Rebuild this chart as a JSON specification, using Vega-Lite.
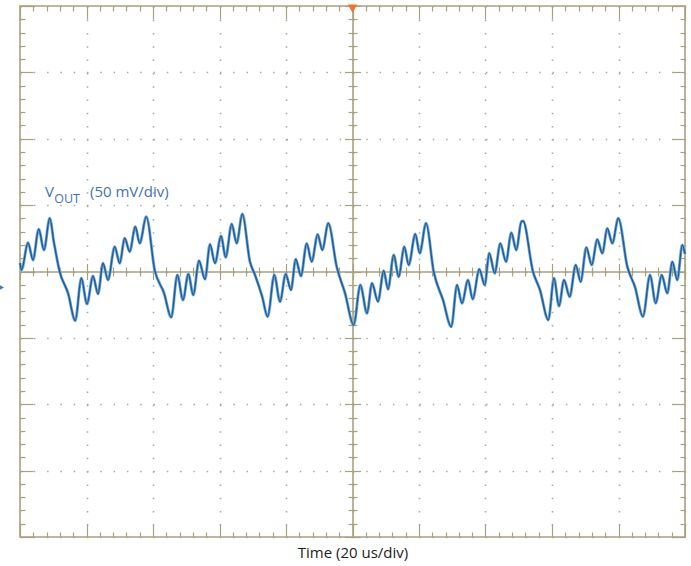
{
  "$schema": "https://vega.github.io/schema/vega-lite/v6.json",
  "width": 665,
  "height": 531,
  "autosize": {"type": "none"},
  "padding": {"left": 20, "top": 6, "right": 6, "bottom": 29},
  "background": "white",
  "view": {"stroke": "#a8a27c", "strokeWidth": 1.6},
  "datasets": {
    "trace": [
      {"t": 0, "v": 6.4}, {"t": 0.45, "v": 1.1}, {"t": 2.41, "v": 21.7}, {"t": 3.91, "v": 8.7}, {"t": 5.62, "v": 31.8}, {"t": 7.22, "v": 16.2}, {"t": 8.93, "v": 40.1}, {"t": 10.23, "v": 21.5}, {"t": 11.94, "v": -0.2}, {"t": 14.44, "v": -16.2}, {"t": 16.63, "v": -37.0},
      {"t": 18.44, "v": -5.1}, {"t": 20.15, "v": -24.5}, {"t": 21.95, "v": -3.4}, {"t": 23.46, "v": -16.9}, {"t": 24.96, "v": 6.2}, {"t": 26.47, "v": -6.4}, {"t": 28.48, "v": 18.7}, {"t": 29.98, "v": 6.2}, {"t": 31.49, "v": 25.0}, {"t": 32.99, "v": 14.9}, {"t": 34.68, "v": 33.7}, {"t": 36.0, "v": 21.2}, {"t": 37.98, "v": 41.3},
      {"t": 40.51, "v": 1.1}, {"t": 43.31, "v": -16.2}, {"t": 45.5, "v": -34.5},
      {"t": 47.31, "v": -2.6}, {"t": 49.02, "v": -21.5}, {"t": 50.62, "v": -1.9}, {"t": 52.12, "v": -17.7}, {"t": 53.83, "v": 8.1}, {"t": 55.64, "v": -5.9}, {"t": 57.14, "v": 20.5}, {"t": 58.65, "v": 6.2}, {"t": 60.45, "v": 26.7}, {"t": 61.86, "v": 10.7}, {"t": 63.67, "v": 35.8}, {"t": 65.17, "v": 21.2}, {"t": 66.86, "v": 43.3},
      {"t": 69.17, "v": 7.2}, {"t": 70.68, "v": -2.6}, {"t": 72.78, "v": -18.4}, {"t": 74.5, "v": -34.0},
      {"t": 76.48, "v": -2.6}, {"t": 78.2, "v": -22.7}, {"t": 79.91, "v": -1.9}, {"t": 81.5, "v": -13.9}, {"t": 82.92, "v": 9.2}, {"t": 84.51, "v": -3.4}, {"t": 86.22, "v": 21.2}, {"t": 87.73, "v": 7.4}, {"t": 89.53, "v": 28.0}, {"t": 90.92, "v": 16.2}, {"t": 92.72, "v": 36.3},
      {"t": 95.25, "v": 3.6}, {"t": 97.74, "v": -16.2}, {"t": 100.36, "v": -40.3},
      {"t": 102.35, "v": -10.2}, {"t": 104.36, "v": -31.5}, {"t": 105.86, "v": -8.9}, {"t": 107.67, "v": -22.7}, {"t": 109.38, "v": 0.6}, {"t": 110.68, "v": -13.4}, {"t": 112.39, "v": 12.4}, {"t": 113.89, "v": -3.9}, {"t": 115.58, "v": 18.7}, {"t": 116.9, "v": 4.9}, {"t": 118.89, "v": 28.2}, {"t": 120.21, "v": 13.7}, {"t": 122.11, "v": 36.3},
      {"t": 124.42, "v": -0.2}, {"t": 127.22, "v": -21.5}, {"t": 129.71, "v": -41.6},
      {"t": 131.43, "v": -10.2}, {"t": 132.93, "v": -23.9}, {"t": 134.74, "v": -6.4}, {"t": 136.15, "v": -20.9}, {"t": 138.14, "v": 1.7}, {"t": 139.76, "v": -10.2}, {"t": 141.14, "v": 13.7}, {"t": 142.77, "v": -1.4}, {"t": 144.45, "v": 21.2}, {"t": 146.17, "v": 7.4}, {"t": 147.76, "v": 29.2}, {"t": 149.26, "v": 16.2}, {"t": 150.77, "v": 37.5}, {"t": 151.28, "v": 38.0},
      {"t": 154.29, "v": -0.2}, {"t": 156.39, "v": -13.9}, {"t": 158.89, "v": -36.5},
      {"t": 160.6, "v": -5.1}, {"t": 162.11, "v": -26.0}, {"t": 163.61, "v": -6.4}, {"t": 165.32, "v": -19.0}, {"t": 167.13, "v": 4.9}, {"t": 168.63, "v": -7.7}, {"t": 170.32, "v": 18.2}, {"t": 171.94, "v": 4.9}, {"t": 173.62, "v": 24.2}, {"t": 175.13, "v": 13.7}, {"t": 176.63, "v": 32.5}, {"t": 178.14, "v": 21.2}, {"t": 179.94, "v": 40.1},
      {"t": 182.65, "v": 3.6}, {"t": 184.96, "v": -11.7}, {"t": 187.37, "v": -34.0},
      {"t": 189.47, "v": -2.6}, {"t": 191.19, "v": -23.9}, {"t": 192.99, "v": -2.6}, {"t": 194.68, "v": -16.4}, {"t": 196.18, "v": 7.4}, {"t": 197.68, "v": -6.4}, {"t": 199.19, "v": 20.0}, {"t": 200, "v": 13.2}
    ],
    "labelMain": [
      {"t": 7.52, "v": 56.1, "label": "V"},
      {"t": 21.05, "v": 56.1, "label": "(50 mV/div)"}
    ],
    "labelSub": [
      {"t": 10.3, "v": 51.4, "label": "OUT"}
    ],
    "trigger": [{"t": 100, "v": 198}],
    "ground": [{"t": -5.6, "v": -12}]
  },
  "layer": [
    {
      "data": {"name": "trace"},
      "mark": {"type": "line", "interpolate": "monotone", "color": "#6ea7d8", "strokeWidth": 2.9},
      "encoding": {
        "x": {"field": "t", "type": "quantitative", "scale": {"domain": [0, 200], "nice": false, "zero": false},
          "axis": {"orient": "bottom", "values": [0,4,8,12,16,20,24,28,32,36,40,44,48,52,56,60,64,68,72,76,80,84,88,92,96,100,104,108,112,116,120,124,128,132,136,140,144,148,152,156,160,164,168,172,176,180,184,188,192,196,200],
            "labels": false, "domain": false, "tickColor": "#a8a27c", "tickWidth": 1.2,
            "tickSize": {"condition": {"test": "datum.value % 20 === 0", "value": -13}, "value": -5},
            "grid": true, "gridColor": "#a9a9a9", "gridWidth": 1.6, "gridDash": [1.5, 11.775],
            "gridOpacity": {"condition": {"test": "datum.value % 20 !== 0", "value": 0}, "value": 1},
            "title": "Time (20 us/div)", "titleFont": "Open Sans", "titleFontSize": 15, "titleFontWeight": "normal", "titleColor": "#222222", "titlePadding": 8}},
        "y": {"field": "v", "type": "quantitative", "scale": {"domain": [-200, 200], "nice": false, "zero": false},
          "axis": {"orient": "left", "values": [-200,-190,-180,-170,-160,-150,-140,-130,-120,-110,-100,-90,-80,-70,-60,-50,-40,-30,-20,-10,0,10,20,30,40,50,60,70,80,90,100,110,120,130,140,150,160,170,180,190,200],
            "labels": false, "domain": false, "tickColor": "#a8a27c", "tickWidth": 1.2,
            "tickSize": {"condition": {"test": "datum.value % 50 === 0", "value": -13}, "value": -5},
            "grid": true, "gridColor": "#a9a9a9", "gridWidth": 1.6, "gridDash": [1.5, 11.8],
            "gridOpacity": {"condition": {"test": "datum.value % 50 !== 0", "value": 0}, "value": 1},
            "title": null}}
      }
    },
    {
      "data": {"name": "trace"},
      "mark": {"type": "line", "interpolate": "monotone", "color": "#1f5a93", "strokeWidth": 1.4},
      "encoding": {
        "x": {"field": "t", "type": "quantitative",
          "axis": {"orient": "top", "values": [0,4,8,12,16,20,24,28,32,36,40,44,48,52,56,60,64,68,72,76,80,84,88,92,96,100,104,108,112,116,120,124,128,132,136,140,144,148,152,156,160,164,168,172,176,180,184,188,192,196,200],
            "labels": false, "domain": false, "grid": false, "tickColor": "#a8a27c", "tickWidth": 1.2,
            "tickSize": {"condition": {"test": "datum.value % 20 === 0", "value": -13}, "value": -5}, "title": null}},
        "y": {"field": "v", "type": "quantitative",
          "axis": {"orient": "right", "values": [-200,-190,-180,-170,-160,-150,-140,-130,-120,-110,-100,-90,-80,-70,-60,-50,-40,-30,-20,-10,0,10,20,30,40,50,60,70,80,90,100,110,120,130,140,150,160,170,180,190,200],
            "labels": false, "domain": false, "grid": false, "tickColor": "#a8a27c", "tickWidth": 1.2,
            "tickSize": {"condition": {"test": "datum.value % 50 === 0", "value": -13}, "value": -5}, "title": null}}
      }
    },
    {
      "data": {"name": "labelMain"},
      "mark": {"type": "text", "align": "left", "baseline": "alphabetic", "font": "Open Sans", "fontSize": 15, "color": "#3f72b5"},
      "encoding": {
        "x": {"field": "t", "type": "quantitative",
          "axis": {"orient": "bottom", "offset": -265.5, "values": [0,4,8,12,16,20,24,28,32,36,40,44,48,52,56,60,64,68,72,76,80,84,88,92,96,100,104,108,112,116,120,124,128,132,136,140,144,148,152,156,160,164,168,172,176,180,184,188,192,196,200],
            "labels": false, "domain": true, "domainColor": "#a8a27c", "domainWidth": 1.6, "grid": false, "tickColor": "#a8a27c", "tickWidth": 1.2,
            "tickSize": {"condition": {"test": "datum.value % 20 === 0", "value": -8}, "value": -4.5}, "title": null}},
        "y": {"field": "v", "type": "quantitative",
          "axis": {"orient": "left", "offset": -332.5, "values": [-200,-190,-180,-170,-160,-150,-140,-130,-120,-110,-100,-90,-80,-70,-60,-50,-40,-30,-20,-10,0,10,20,30,40,50,60,70,80,90,100,110,120,130,140,150,160,170,180,190,200],
            "labels": false, "domain": true, "domainColor": "#a8a27c", "domainWidth": 1.6, "grid": false, "tickColor": "#a8a27c", "tickWidth": 1.2,
            "tickSize": {"condition": {"test": "datum.value % 50 === 0", "value": 8}, "value": 4.5}, "title": null}},
        "text": {"field": "label"}
      }
    },
    {
      "data": {"name": "labelSub"},
      "mark": {"type": "text", "align": "left", "baseline": "alphabetic", "font": "Open Sans", "fontSize": 12.5, "color": "#3f72b5"},
      "encoding": {
        "x": {"field": "t", "type": "quantitative",
          "axis": {"orient": "bottom", "offset": -265.5, "values": [0,4,8,12,16,20,24,28,32,36,40,44,48,52,56,60,64,68,72,76,80,84,88,92,96,100,104,108,112,116,120,124,128,132,136,140,144,148,152,156,160,164,168,172,176,180,184,188,192,196,200],
            "labels": false, "domain": false, "grid": false, "tickColor": "#a8a27c", "tickWidth": 1.2,
            "tickSize": {"condition": {"test": "datum.value % 20 === 0", "value": 8}, "value": 4.5}, "title": null}},
        "y": {"field": "v", "type": "quantitative",
          "axis": {"orient": "left", "offset": -332.5, "values": [-200,-190,-180,-170,-160,-150,-140,-130,-120,-110,-100,-90,-80,-70,-60,-50,-40,-30,-20,-10,0,10,20,30,40,50,60,70,80,90,100,110,120,130,140,150,160,170,180,190,200],
            "labels": false, "domain": false, "grid": false, "tickColor": "#a8a27c", "tickWidth": 1.2,
            "tickSize": {"condition": {"test": "datum.value % 50 === 0", "value": -8}, "value": -4.5}, "title": null}},
        "text": {"field": "label"}
      }
    },
    {
      "data": {"name": "trigger"},
      "mark": {"type": "point", "shape": "triangle-down", "filled": true, "size": 90, "color": "#ee7426", "opacity": 1},
      "encoding": {
        "x": {"field": "t", "type": "quantitative", "axis": null},
        "y": {"field": "v", "type": "quantitative", "axis": null}
      }
    },
    {
      "data": {"name": "ground"},
      "mark": {"type": "point", "shape": "triangle-right", "filled": true, "size": 35, "color": "#3f78c0", "opacity": 1},
      "encoding": {
        "x": {"field": "t", "type": "quantitative", "axis": null},
        "y": {"field": "v", "type": "quantitative", "axis": null}
      }
    }
  ],
  "resolve": {"axis": {"x": "independent", "y": "independent"}}
}
